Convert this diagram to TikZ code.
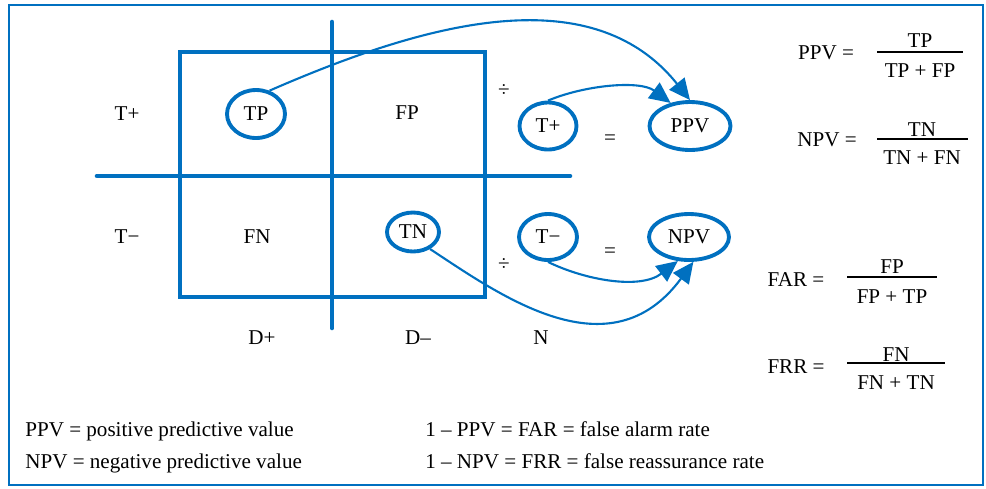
\documentclass[tikz,border=0pt]{standalone}
\usepackage{fontspec}
\setmainfont{Liberation Serif}
\usetikzlibrary{arrows.meta,positioning,shapes.geometric}
\definecolor{gridblue}{RGB}{0,112,192}
\tikzset{
  cell/.style={ellipse,draw=gridblue,line width=2.2pt,inner sep=0pt,
               font=\fontsize{12}{14}\selectfont},
  lbl/.style={font=\fontsize{12}{14}\selectfont,inner sep=0pt},
  gl/.style={gridblue,line width=2.6pt},
  ar/.style={-{Triangle[length=12pt,width=11pt]},gridblue,line width=1.2pt},
  fbar/.style={black,line width=1.4pt},
}

\begin{document}
\begin{tikzpicture}[x=0.02cm,y=-0.02cm]
  \useasboundingbox (0,0) rectangle (986,488);
  \draw[gridblue,line width=1.3pt] (9,5) rectangle (983,485);
  % 2x2 table
  \draw[gl] (180,52) rectangle (485,297);
  \draw[gl,line cap=round] (332,22) -- (332,328);
  \draw[gl,line cap=round] (97,176) -- (570,176);
  % row / column labels
  \node[lbl] (tpos) at (127,114) {T+};
  \node[lbl] (tneg) at (127,237) {T−};
  \node[lbl] (dpos) at (262,338) {D+};
  \node[lbl] (dneg) at (418,338) {D--};
  \node[lbl] (ncol) at (541,338) {N};
  \node[lbl] (fp) at (407,113) {FP};
  \node[lbl] (fn) at (257,237) {FN};
  % circled cells
  \node[cell,minimum width=1.16cm,minimum height=0.96cm] (tp) at (256,114) {TP};
  \node[cell,minimum width=1.04cm,minimum height=0.78cm] (tn) at (413,232) {TN};
  \node[cell,minimum width=1.14cm,minimum height=0.94cm] (tplus) at (548,126) {T+};
  \node[cell,minimum width=1.16cm,minimum height=0.92cm] (tminus) at (548,237) {T−};
  \node[cell,minimum width=1.62cm,minimum height=0.96cm] (ppv) at (690,126) {PPV};
  \node[cell,minimum width=1.60cm,minimum height=0.92cm] (npv) at (689,237) {NPV};
  \node[lbl] (divA) at (504,91) {÷};
  \node[lbl] (divB) at (504,265) {÷};
  \node[lbl] (eqA) at (610,140) {=};
  \node[lbl] (eqB) at (610,253) {=};
  % arrows
  \draw[ar] (tp.60) .. controls (420,25) and (590,-25) .. (ppv.north);
  \draw[ar] (tplus.north) .. controls (585,85) and (640,80) .. (ppv.130);
  \draw[ar] (tminus.south) .. controls (585,280) and (640,290) .. (npv.-115);
  \draw[ar] (tn.-45) .. controls (500,295) and (610,375) .. (npv.-80);
  % formulas
  \node[lbl] (ppvlhs) at (826,53) {PPV =};
  \node[lbl] (ppvnum) at (920,41) {TP};
  \node[lbl] (ppvden) at (920,71) {TP + FP};
  \draw[fbar] (877,52) -- (963,52);
  \node[lbl] (npvlhs) at (827,140) {NPV =};
  \node[lbl] (npvnum) at (922,130) {TN};
  \node[lbl] (npvden) at (922,158) {TN + FN};
  \draw[fbar] (877,139) -- (968,139);
  \node[lbl] (farlhs) at (796,280) {FAR =};
  \node[lbl] (farnum) at (892,267) {FP};
  \node[lbl] (farden) at (892,297) {FP + TP};
  \draw[fbar] (847,277) -- (937,277);
  \node[lbl] (frrlhs) at (796,367) {FRR =};
  \node[lbl] (frrnum) at (896,355) {FN};
  \node[lbl] (frrden) at (896,383) {FN + TN};
  \draw[fbar] (847,363) -- (945,363);
  % legend
  \node[lbl,anchor=base west] (lgA) at (25,436) {PPV = positive predictive value};
  \node[lbl,anchor=base west] (lgB) at (25,468) {NPV = negative predictive value};
  \node[lbl,anchor=base west] (lgC) at (425,436) {1 -- PPV = FAR = false alarm rate};
  \node[lbl,anchor=base west] (lgD) at (425,468) {1 -- NPV = FRR = false reassurance rate};
\end{tikzpicture}
\end{document}
